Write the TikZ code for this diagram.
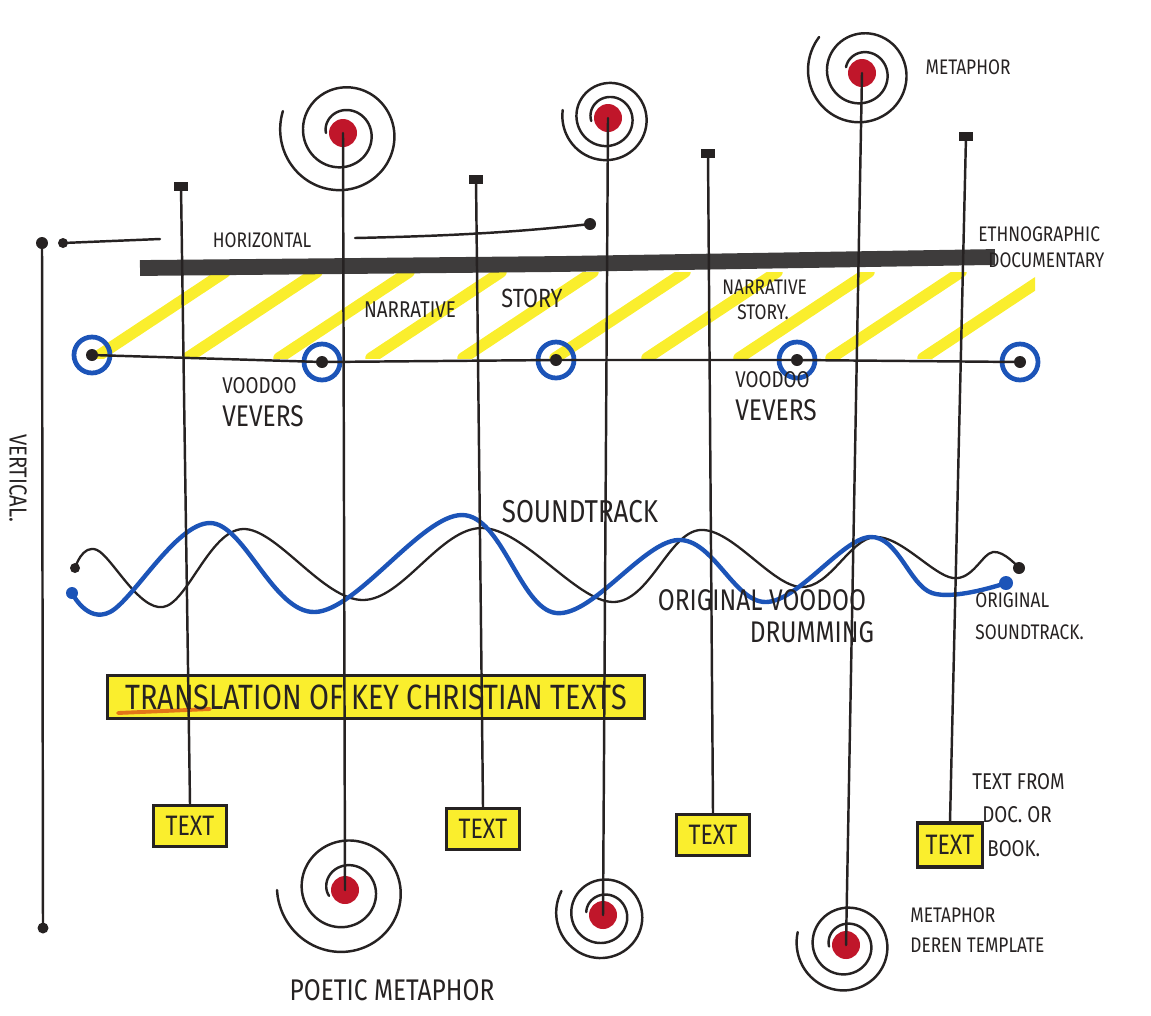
\documentclass[tikz,border=0pt]{standalone}
\usepackage{fontspec}
\usetikzlibrary{calc}
\newfontfamily\hand[FakeStretch=0.82]{Fira Sans}
\definecolor{ink}{RGB}{38,34,34}
\definecolor{bar}{RGB}{62,60,60}
\definecolor{vblue}{RGB}{28,84,184}
\definecolor{hl}{RGB}{250,238,45}
\definecolor{rdot}{RGB}{192,22,42}
\definecolor{orng}{RGB}{228,118,24}
\newcommand\hsz[1]{\hand\fontsize{#1}{#1}\selectfont}
\newcommand\myspiral[4]{%
  \draw[inkline] plot[domain=0:740, samples=130, smooth, variable=\t]
   ({#1+(17+(#3-17)*(\t/740))*cos(\t+#4)}, {#2+(17+(#3-17)*(\t/740))*sin(\t+#4)});
  \fill[rdot] (#1,#2) circle[radius=14];
}
\begin{document}
\begin{tikzpicture}[x=0.02cm,y=-0.02cm,
  inkline/.style={draw=ink, line width=1.4pt, line cap=round, line join=round},
  hw/.style={text=ink, inner sep=0pt},
  tbox/.style={draw=ink, line width=1.8pt, fill=hl, inner sep=0pt,
     minimum width=1.45cm, minimum height=0.82cm, font=\hsz{16}, text=ink},
  vring/.style={circle, draw=vblue, line width=2.7pt, minimum size=0.72cm, inner sep=0pt},
  stripe/.style={draw=hl, line width=6.5pt, line cap=round}]
\useasboundingbox (0,0) rectangle (1151,1015);

% yellow stripes
\begin{scope}
  \clip (92,272) rectangle (1035,358);
  \foreach \x in {95,187,...,1000} \draw[stripe] (\x,358) -- (\x+130,272);
\end{scope}

% thick documentary bar
\draw[draw=bar, line width=9pt] (140,268) -- (560,264) -- (995,257);

% left axes
\coordinate (vtop) at (42,243);
\coordinate (vbot) at (43,928);
\coordinate (htop) at (63,243);
\coordinate (hA) at (160,239);
\coordinate (hB) at (355,238);
\coordinate (hend) at (590,224);
\draw[inkline] (vtop) -- (vbot);
\fill[ink] (vtop) circle[radius=6];
\fill[ink] (vbot) circle[radius=5.5];
\fill[ink] (htop) circle[radius=5];
\fill[ink] (hend) circle[radius=6];
\draw[inkline] (htop) -- (hA);
\draw[inkline] (hB) .. controls (450,236) and (520,232) .. (hend);
\node[hw, font=\hsz{12}] (lhor) at (262,240) {HORIZONTAL};
\node[hw, font=\hsz{14}, rotate=-90] (lvert) at (18,478) {VERTICAL.};

% vevers line
\node[vring] (v1) at (92,355) {};
\node[vring] (v2) at (322,362) {};
\node[vring] (v3) at (556,360) {};
\node[vring] (v4) at (797,360) {};
\node[vring] (v5) at (1020,362) {};
\draw[inkline] (v1.center) -- (v2.center) -- (v3.center) -- (v4.center) -- (v5.center);
\foreach \v in {v1,v2,v3,v4,v5} \fill[ink] (\v) circle[radius=6];

% labels top band
\node[hw, font=\hsz{13}] (lnar) at (410,310) {NARRATIVE};
\node[hw, font=\hsz{15}] (lsto) at (532,298) {STORY};
\node[hw, font=\hsz{12}, align=left, anchor=west] (lnar2) at (722,300) {NARRATIVE\\[2pt]\hspace*{0.3cm}STORY.};
\node[hw, font=\hsz{12}, align=left, anchor=west] (leth) at (978,247) {ETHNOGRAPHIC\\[3pt]\hspace*{0.2cm}DOCUMENTARY};
\node[hw, align=left, anchor=west] (lvv1) at (222,402) {{\hsz{13}VOODOO}\\[6pt]{\hsz{17}VEVERS}};
\node[hw, align=left, anchor=west] (lvv2) at (735,396) {{\hsz{13}VOODOO}\\[6pt]{\hsz{17}VEVERS}};

% soundtrack waves
\draw[draw=ink, line width=1.3pt] plot[smooth, tension=0.6] coordinates {(75,568) (97,550) (163,607) (243,529) (363,600) (482,528) (613,602) (700,530) (801,587) (875,537) (953,578) (993,552) (1019,568)};
\draw[draw=vblue, line width=2.5pt] plot[smooth, tension=0.6] coordinates {(72,593) (110,612) (210,523) (315,612) (462,515) (556,613) (678,540) (766,602) (870,537) (932,593) (1006,583)};
\fill[ink] (75,568) circle[radius=5];
\fill[vblue] (72,593) circle[radius=6];
\fill[ink] (1019,568) circle[radius=6];
\fill[vblue] (1006,583) circle[radius=7];
\node[hw, font=\hsz{18}] (lsnd) at (580,512) {SOUNDTRACK};
\node[hw, font=\hsz{17}] (lorg) at (762,600) {ORIGINAL VOODOO};
\node[hw, font=\hsz{17}] (ldrum) at (812,632) {DRUMMING};
\node[hw, font=\hsz{12}, align=left, anchor=west] (lorg2) at (975,616) {ORIGINAL\\[6pt]SOUNDTRACK.};

% translation box
\node[draw=ink, line width=1.8pt, fill=hl, minimum width=10.74cm, minimum height=0.86cm, inner sep=0pt] (trans) at (376,697) {};
\draw[draw=orng, line width=2.2pt, line cap=round] (118,713) -- (210,709);
\node[hw, font=\hsz{20}] (ltrans) at (376,697) {TRANSLATION OF KEY CHRISTIAN TEXTS};

% text boxes
\node[tbox] (t1) at (190,826) {TEXT};
\node[tbox] (t2) at (483,829) {TEXT};
\node[tbox] (t3) at (713,835) {TEXT};
\node[tbox, minimum width=1.3cm, minimum height=0.88cm] (t4) at (950,845) {TEXT};
\node[hw, font=\hsz{13}, align=left, anchor=west] (lfrom) at (972,815) {TEXT FROM\\[6pt]\hspace*{0.2cm}DOC. OR\\[6pt]\hspace*{0.3cm}BOOK.};

% caps and verticals to text boxes
\coordinate (c1) at (181,186);
\coordinate (c2) at (476,179);
\coordinate (c3) at (708,153);
\coordinate (c4) at (966,136);
\foreach \c in {c1,c2,c3,c4} \fill[ink] ($(\c)+(-7,-4)$) rectangle ($(\c)+(7,5)$);
\draw[inkline] (c1) -- (t1.north);
\draw[inkline] (c2) -- (t2.north);
\draw[inkline] (c3) -- (t3.north);
\draw[inkline] (c4) -- (t4.north);

% spirals (metaphors)
\coordinate (s1) at (343,133);
\coordinate (s2) at (608,118);
\coordinate (s3) at (862,73);
\coordinate (b1) at (345,890);
\coordinate (b2) at (603,915);
\coordinate (b3) at (846,945);
\myspiral{343}{133}{64}{180}
\myspiral{608}{118}{46}{170}
\myspiral{862}{73}{56}{200}
\myspiral{345}{890}{68}{160}
\myspiral{603}{915}{48}{190}
\myspiral{846}{945}{50}{175}
\draw[inkline] (s1) -- (b1);
\draw[inkline] (s2) -- (b2);
\draw[inkline] (s3) -- (b3);

\node[hw, font=\hsz{12}] (lmet) at (968,67) {METAPHOR};
\node[hw, font=\hsz{12}, align=left, anchor=west] (lder) at (910,930) {METAPHOR\\[5pt]DEREN TEMPLATE};
\node[hw, font=\hsz{17}] (lpoet) at (392,990) {POETIC METAPHOR};
\end{tikzpicture}
\end{document}
